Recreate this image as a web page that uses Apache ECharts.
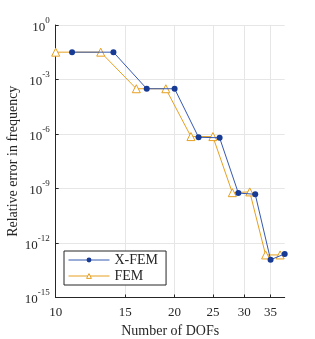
<!DOCTYPE html>
<html><head><meta charset="utf-8">
<script src="https://cdn.jsdelivr.net/npm/echarts@6/dist/echarts.min.js"></script>
<style>html,body{margin:0;padding:0;background:#fff}#c{width:315px;height:339px}</style>
</head><body><div id="c"></div>
<script>
var xfemDofs = [11, 14, 17, 20, 23, 26, 29, 32, 35, 38];
var xfemErr  = [3.2e-2, 3.2e-2, 3.1e-4, 3.1e-4, 6.6e-7, 6.2e-7, 5.6e-10, 4.8e-10, 1.2e-13, 2.5e-13];
var femDofs  = [10, 13, 16, 19, 22, 25, 28, 31, 34, 37];
var femErr   = [3.2e-2, 3.2e-2, 3.1e-4, 3.1e-4, 7.2e-7, 7.2e-7, 5.9e-10, 6.5e-10, 2.2e-13, 2.2e-13];
var xTicks = [10, 15, 20, 25, 30, 35];
var yTicks = [1e-15, 1e-12, 1e-9, 1e-6, 1e-3, 1];

function pairs(xs, ys){ return xs.map(function(x,i){ return [x, ys[i]]; }); }
var serif = 'Liberation Serif';
var axisCol = '#262626';
var chart = echarts.init(document.getElementById('c'), null, {renderer:'canvas'});
chart.setOption({
  animation:false,
  backgroundColor:'#fff',
  grid:{left:55.7, right:30.3, top:25, bottom:41.5, containLabel:false, outerBoundsMode:'none'},
  xAxis:{
    type:'log', logBase:10, min:10, max:38,
    name:'Number of DOFs', nameLocation:'middle', nameGap:27, nameMoveOverlap:false,
    nameTextStyle:{fontFamily:serif, fontSize:14, color:axisCol},
    axisLine:{lineStyle:{color:axisCol, width:1}},
    axisTick:{inside:true, length:3, lineStyle:{color:axisCol}, customValues:xTicks},
    axisLabel:{customValues:xTicks, interval:0, hideOverlap:false, fontFamily:serif, fontSize:13, color:axisCol, margin:9},
    splitLine:{show:true, lineStyle:{color:'#e6e6e6', width:1}},
    minorTick:{show:false}
  },
  yAxis:{
    type:'log', logBase:10, min:1e-15, max:1,
    name:'Relative error in frequency', nameLocation:'middle', nameGap:35, nameMoveOverlap:false,
    nameTextStyle:{fontFamily:serif, fontSize:14, color:axisCol},
    axisLine:{show:true, lineStyle:{color:axisCol, width:1}},
    axisTick:{show:true, inside:true, length:3, lineStyle:{color:axisCol}, customValues:yTicks},
    axisLabel:{customValues:yTicks, interval:0, fontFamily:serif, color:axisCol, margin:6,
      formatter:function(v){ var e=Math.round(Math.log10(v)); return '{b|10}{s|'+e+'}'; },
      rich:{b:{fontFamily:serif, fontSize:13, color:axisCol, lineHeight:18, verticalAlign:'bottom'},
            s:{fontFamily:serif, fontSize:9, color:axisCol, lineHeight:18, verticalAlign:'top'}}},
    splitLine:{show:true, lineStyle:{color:'#e6e6e6', width:1}}
  },
  legend:{
    orient:'vertical', left:64, top:251, width:94,
    backgroundColor:'#fff', borderColor:axisCol, borderWidth:1,
    padding:[2,8,2,4], itemGap:2, itemWidth:41, itemHeight:6,
    lineStyle:{width:1},
    textStyle:{fontFamily:serif, fontSize:14, color:axisCol},
    data:[{name:'X-FEM'}, {name:'FEM', itemStyle:{color:'#fff', borderColor:'#e6a020', borderWidth:1}}]
  },
  series:[
    {name:'X-FEM', type:'line', data:pairs(xfemDofs, xfemErr),
     symbol:'circle', symbolSize:6, showAllSymbol:true,
     lineStyle:{color:'#3558b0', width:1}, itemStyle:{color:'#173a94', borderWidth:0}, z:3},
    {name:'FEM', type:'line', data:pairs(femDofs, femErr),
     symbol:'triangle', symbolSize:8, showAllSymbol:true,
     lineStyle:{color:'#e6a020', width:1}, itemStyle:{color:'#fff', borderColor:'#e6a020', borderWidth:1}, z:2}
  ]
});
</script></body></html>
